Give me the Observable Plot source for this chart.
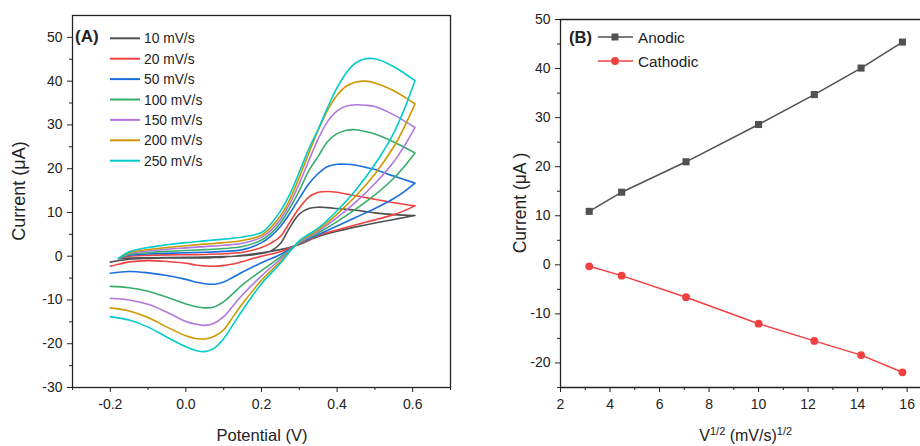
<!DOCTYPE html>
<html><head><meta charset="utf-8">
<script src="https://cdn.jsdelivr.net/npm/d3@7"></script>
<script src="https://cdn.jsdelivr.net/npm/@observablehq/plot@0.6"></script>
<style>
body{margin:0;background:#fff;font-family:Arial,"Liberation Sans",sans-serif;}
#wrap{position:relative;width:920px;height:446px;overflow:hidden;background:#fff;}
#a,#b{position:absolute;top:0;}
#a{left:0;} #b{left:460px;}
</style></head>
<body><div id="wrap"><div id="a"></div><div id="b"></div></div>
<script>
// ---------- Panel A data: cyclic voltammograms ----------
const scanLabels = ["10 mV/s","20 mV/s","50 mV/s","100 mV/s","150 mV/s","200 mV/s","250 mV/s"];
const scanColors = ["#515151","#F14040","#1A6FDF","#37AD6B","#B177DE","#CC9900","#00CBCC"];
const forwardPotential = [-0.178,-0.15,-0.1,-0.05,0,0.05,0.1,0.15,0.2,0.225,0.25,0.275,0.3,0.325,0.35,0.375,0.4,0.425,0.45,0.475,0.5,0.55,0.606];
const reversePotential = [0.606,0.575,0.55,0.5,0.45,0.4,0.35,0.3,0.25,0.2,0.15,0.125,0.1,0.075,0.05,0.025,0,-0.05,-0.1,-0.15,-0.2];

const fwd10  = [-0.5,-0.4,-0.35,-0.3,-0.25,-0.2,-0.1,0.1,0.6,1.2,2.9,6.6,9.6,10.9,11.2,11.1,10.9,10.7,10.5,10.2,9.9,9.5,9.3];
const fwd20  = [-0.5,0.0,0.2,0.3,0.35,0.4,0.55,0.9,2.0,3.0,4.5,7.8,11.0,13.5,14.6,14.8,14.6,14.2,13.8,13.4,13.0,12.2,11.5];
const fwd50  = [-0.5,0.2,0.5,0.65,0.8,0.9,1.1,1.5,3.1,4.6,6.8,9.8,13.2,16.5,18.9,20.5,21.0,21.0,20.8,20.3,19.8,18.3,16.7];
const fwd100 = [-0.5,0.4,0.8,1.1,1.3,1.5,1.75,2.2,3.7,5.2,7.6,11.0,15.0,19.5,22.8,26.2,28.0,28.8,28.9,28.5,27.9,26.1,23.6];
const fwd150 = [-0.5,0.6,1.2,1.6,1.9,2.2,2.5,2.95,4.3,5.9,8.4,12.0,16.6,21.8,26.8,30.8,33.2,34.3,34.6,34.5,34.2,32.3,29.4];
const fwd200 = [-0.5,0.8,1.55,2.0,2.4,2.75,3.1,3.6,4.8,6.6,9.2,13.0,18.0,23.5,28.8,33.4,36.8,38.9,39.8,40.0,39.6,37.8,34.8];
const fwd250 = [-0.5,1.0,2.0,2.6,3.1,3.5,3.9,4.4,5.4,7.4,10.3,14.2,19.2,24.5,29.0,34.0,38.5,42.0,44.2,45.1,45.1,43.3,40.1];

const rev10  = [9.3,8.8,8.4,7.6,6.7,5.7,4.5,2.7,1.5,0.8,0.2,0.0,-0.2,-0.3,-0.4,-0.4,-0.4,-0.4,-0.5,-0.7,-1.35];
const rev20  = [11.5,10.3,9.5,8.3,7.2,6.0,4.7,2.8,1.0,0.0,-1.2,-1.8,-2.1,-2.3,-2.2,-2.0,-1.6,-1.2,-1.0,-1.3,-2.3];
const rev50  = [16.7,14.6,13.2,10.9,8.9,6.9,4.9,2.9,0.4,-1.5,-3.6,-4.8,-5.9,-6.4,-6.3,-5.9,-5.3,-4.4,-3.8,-3.5,-3.9];
const rev100 = [23.6,20.2,17.8,14.0,10.8,7.9,5.3,3.0,-0.2,-3.3,-6.5,-8.5,-10.4,-11.6,-11.8,-11.5,-10.9,-9.4,-8.0,-7.2,-6.9];
const rev150 = [29.4,24.8,21.6,16.6,12.4,8.8,5.7,3.1,-0.7,-4.5,-8.8,-11.3,-13.8,-15.3,-15.8,-15.5,-14.9,-12.8,-11.0,-10.0,-9.6];
const rev200 = [34.8,29.0,25.0,18.8,13.8,9.6,6.0,3.3,-1.2,-5.5,-10.8,-13.8,-16.8,-18.3,-18.9,-18.8,-18.2,-16.2,-14.0,-12.5,-11.8];
const rev250 = [40.1,33.0,28.2,21.0,15.2,10.4,6.4,3.5,-1.6,-6.3,-12.3,-15.6,-18.8,-21.0,-21.8,-21.5,-20.7,-18.5,-16.2,-14.6,-13.8];

const xMajorA = [-0.2,0,0.2,0.4,0.6];
const xMinorA = [-0.3,-0.1,0.1,0.3,0.5,0.7];
const yMajorA = [-30,-20,-10,0,10,20,30,40,50];
const yMinorA = [-25,-15,-5,5,15,25,35,45];

// ---------- Panel B data: peak currents vs sqrt(scan rate) ----------
const sqrtScanRate = [3.16,4.47,7.07,10.0,12.25,14.14,15.81];
const anodicCurrent = [10.9,14.8,21.0,28.6,34.7,40.1,45.4];
const cathodicCurrent = [-0.3,-2.2,-6.6,-12.0,-15.5,-18.4,-21.9];
const xMajorB = [2,4,6,8,10,12,14,16];
const xMinorB = [3,5,7,9,11,13,15];
const yMajorB = [-20,-10,0,10,20,30,40,50];
const yMinorB = [-25,-15,-5,5,15,25,35,45];

// ---------- build tables ----------
const fwdAll = [fwd10,fwd20,fwd50,fwd100,fwd150,fwd200,fwd250];
const revAll = [rev10,rev20,rev50,rev100,rev150,rev200,rev250];
const cvRows = [];
scanLabels.forEach((s,i) => {
  forwardPotential.forEach((v,j) => cvRows.push({scan:s, potential:v, current:fwdAll[i][j]}));
  reversePotential.forEach((v,j) => cvRows.push({scan:s, potential:v, current:revAll[i][j]}));
});
const bRows = [];
sqrtScanRate.forEach((x,i) => bRows.push({series:"Anodic", x, y:anodicCurrent[i]}));
sqrtScanRate.forEach((x,i) => bRows.push({series:"Cathodic", x, y:cathodicCurrent[i]}));

const FONT = 'Arial, "Liberation Sans", sans-serif';
const INK = "#222";
const fmtA = d => d.toFixed(1);
const fmtInt = d => String(d);

const plotA = Plot.plot({
  width: 460, height: 446,
  marginLeft: 72, marginRight: 10, marginTop: 15, marginBottom: 59,
  x: {domain: [-0.3, 0.7], label: null},
  y: {domain: [-30, 55], label: null},
  color: {domain: scanLabels, range: scanColors},
  style: {fontFamily: FONT, fontSize: "14px", color: INK, background: "white", overflow: "visible"},
  marks: [
    Plot.line(cvRows, {x: "potential", y: "current", z: "scan", stroke: "scan", strokeWidth: 1.6, curve: "catmull-rom"}),
    Plot.frame({stroke: INK, strokeWidth: 1.3}),
    Plot.axisX({ticks: xMajorA, tickSize: 5, tickPadding: 7, tickFormat: fmtA, label: null, stroke: INK}),
    Plot.axisX({ticks: xMinorA, tickSize: 3, tickFormat: () => "", label: null, stroke: INK}),
    Plot.axisY({ticks: yMajorA, tickSize: 5, tickPadding: 5, tickFormat: fmtInt, label: null, stroke: INK}),
    Plot.axisY({ticks: yMinorA, tickSize: 3, tickFormat: () => "", label: null, stroke: INK})
  ]
});
document.getElementById("a").appendChild(plotA);

const plotB = Plot.plot({
  width: 460, height: 446,
  marginLeft: 100, marginRight: 0, marginTop: 19, marginBottom: 59,
  x: {domain: [2, 16.54], label: null},
  y: {domain: [-25, 50], label: null},
  color: {domain: ["Anodic","Cathodic"], range: ["#515151","#F14040"]},
  style: {fontFamily: FONT, fontSize: "14px", color: INK, background: "white", overflow: "visible"},
  marks: [
    Plot.ruleX([2], {stroke: INK, strokeWidth: 1.3}),
    Plot.ruleY([-25], {stroke: INK, strokeWidth: 1.3}),
    Plot.ruleY([50], {stroke: INK, strokeWidth: 1.3}),
    Plot.axisX({ticks: xMajorB, tickSize: 5, tickPadding: 7, tickFormat: fmtInt, label: null, stroke: INK}),
    Plot.axisX({ticks: xMinorB, tickSize: 3, tickFormat: () => "", label: null, stroke: INK}),
    Plot.axisY({ticks: yMajorB, tickSize: 5, tickPadding: 5, tickFormat: fmtInt, label: null, stroke: INK}),
    Plot.axisY({ticks: yMinorB, tickSize: 3, tickFormat: () => "", label: null, stroke: INK}),
    Plot.line(bRows, {x: "x", y: "y", z: "series", stroke: "series", strokeWidth: 1.5}),
    Plot.dot(bRows.filter(d => d.series === "Anodic"), {x: "x", y: "y", fill: "series", symbol: "square", r: 4}),
    Plot.dot(bRows.filter(d => d.series === "Cathodic"), {x: "x", y: "y", fill: "series", symbol: "circle", r: 3.9})
  ]
});
document.getElementById("b").appendChild(plotB);

// ---------- labels and legends ----------
function txt(svg, x, y, s, o = {}) {
  const t = d3.select(svg).append("text")
    .attr("x", x).attr("y", y)
    .attr("font-family", FONT)
    .attr("font-size", o.size || 14)
    .attr("font-weight", o.weight || "normal")
    .attr("fill", INK)
    .attr("text-anchor", o.anchor || "start")
    .attr("dominant-baseline", o.baseline || "central")
    .text(s);
  if (o.rotate) t.attr("transform", `rotate(-90,${x},${y})`);
  return t;
}

// Panel A
txt(plotA, 19, 191, "Current (μA)", {size: 18, anchor: "middle", rotate: true});
txt(plotA, 262, 435, "Potential (V)", {size: 16.5, anchor: "middle"});
txt(plotA, 75, 36, "(A)", {size: 17, weight: "bold"});
scanLabels.forEach((s, i) => {
  const y = 38.3 + 20.4 * i;
  d3.select(plotA).append("line").attr("x1", 110).attr("x2", 140).attr("y1", y).attr("y2", y)
    .attr("stroke", scanColors[i]).attr("stroke-width", 2);
  txt(plotA, 144, y + 0.5, s, {size: 13.8});
});

// Panel B
txt(plotB, 60, 203, "Current (μA )", {size: 17.5, anchor: "middle", rotate: true});
const xl = d3.select(plotB).append("text")
  .attr("x", 285.7).attr("y", 441).attr("text-anchor", "middle")
  .attr("font-family", FONT).attr("font-size", 16).attr("fill", INK);
xl.append("tspan").text("V");
xl.append("tspan").attr("font-size", 11).attr("dy", -6).text("1/2");
xl.append("tspan").attr("dy", 6).text(" (mV/s)");
xl.append("tspan").attr("font-size", 11).attr("dy", -6).text("1/2");

txt(plotB, 109, 37, "(B)", {size: 16.5, weight: "bold"});
[["Anodic", "#515151", 37, "square"], ["Cathodic", "#F14040", 61, "circle"]].forEach(([name, col, y, sym]) => {
  const g = d3.select(plotB);
  g.append("line").attr("x1", 138).attr("x2", 173).attr("y1", y).attr("y2", y)
    .attr("stroke", col).attr("stroke-width", 1.5);
  if (sym === "square") g.append("rect").attr("x", 151.5).attr("y", y - 3.5).attr("width", 7).attr("height", 7).attr("fill", col);
  else g.append("circle").attr("cx", 155).attr("cy", y).attr("r", 3.9).attr("fill", col);
  txt(plotB, 178, y, name, {size: 15.3});
});
</script>
</body></html>
